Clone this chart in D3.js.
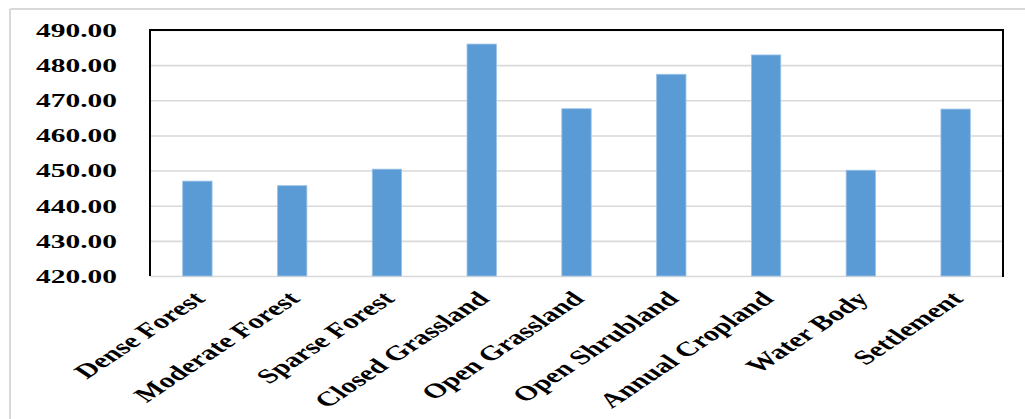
<!DOCTYPE html>
<html>
<head>
<meta charset="utf-8">
<script src="https://cdn.jsdelivr.net/npm/d3@7"></script>
<style>
  html, body { margin: 0; padding: 0; background: #ffffff; }
  svg { display: block; }
  text { font-family: "Liberation Serif", "Times New Roman", serif; font-weight: bold; fill: #000; }
</style>
</head>
<body>
<svg id="chart" width="1025" height="419"></svg>
<script>
// Land cover classes and their mean values
const categories = ["Dense Forest", "Moderate Forest", "Sparse Forest", "Closed Grassland",
  "Open Grassland", "Open Shrubland", "Annual Cropland", "Water Body", "Settlement"];
const values = [447.0, 445.7, 450.4, 486.0, 467.6, 477.4, 482.9, 450.1, 467.5];
const yTicks = [420, 430, 440, 450, 460, 470, 480, 490];

const svg = d3.select("#chart");
const W = 1025, H = 419;
const plot = { left: 150, right: 1003, top: 30, bottom: 276 };

// outer chart-area border (left and top edges)
svg.append("line").attr("x1", 10).attr("x2", W).attr("y1", 9).attr("y2", 9)
  .attr("stroke", "#d9d9d9").attr("stroke-width", 2);
svg.append("line").attr("x1", 10).attr("x2", 10).attr("y1", 9).attr("y2", H)
  .attr("stroke", "#d9d9d9").attr("stroke-width", 2);

const x = d3.scaleBand().domain(categories)
  .range([plot.left, plot.right]).paddingInner(0.69).paddingOuter(0.345);
const y = d3.scaleLinear().domain([420, 490]).range([plot.bottom, plot.top]);

// horizontal gridlines
const grid = svg.append("g").attr("transform", `translate(${plot.left},0)`)
  .call(d3.axisLeft(y).tickValues(yTicks).tickSize(-(plot.right - plot.left)).tickFormat(""));
grid.select(".domain").remove();
grid.selectAll(".tick line").attr("stroke", "#d9d9d9").attr("stroke-width", 1.6);

// bars
svg.append("g").selectAll("rect").data(values).join("rect")
  .attr("x", (d, i) => x(categories[i]))
  .attr("width", x.bandwidth())
  .attr("y", d => y(d))
  .attr("height", d => y(420) - y(d))
  .attr("fill", "#5b9bd5")
  .attr("stroke", "#9cc3e8").attr("stroke-width", 0.8);

// plot frame: black on left, top and right
svg.append("path")
  .attr("d", `M${plot.left},${plot.bottom} V${plot.top} H${plot.right} V${plot.bottom + 1}`)
  .attr("fill", "none").attr("stroke", "#000").attr("stroke-width", 2);

// y tick labels (wide bold serif)
svg.append("g").selectAll("text").data(yTicks).join("text")
  .attr("transform", d => `translate(117,${y(d)}) scale(1.55,1)`)
  .attr("text-anchor", "end").attr("dy", "0.36em")
  .style("font-size", "19px")
  .text(d => d3.format(".2f")(d));

// x category labels, slanted
svg.append("g").selectAll("text").data(categories).join("text")
  .attr("transform", d => `translate(${x(d) + x.bandwidth() / 2 + 9},300) scale(1.5,1) rotate(-45)`)
  .attr("text-anchor", "end")
  .style("font-size", "20.5px")
  .text(d => d);
</script>
</body>
</html>
